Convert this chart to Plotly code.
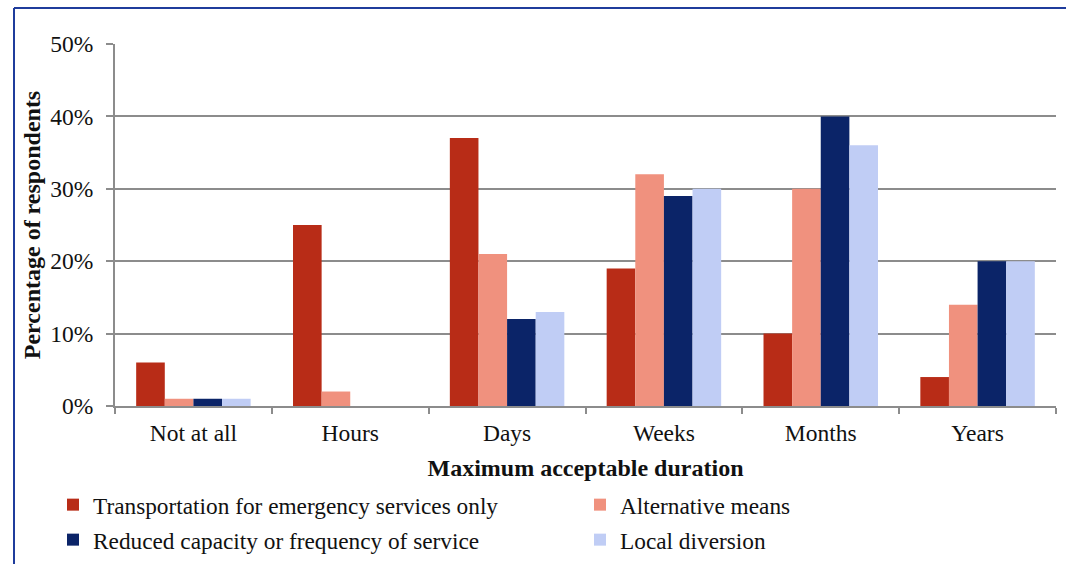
import plotly.graph_objects as go

categories = ['Not at all', 'Hours', 'Days', 'Weeks', 'Months', 'Years']
emergency_only = [6, 25, 37, 19, 10, 4]
alternative_means = [1, 2, 21, 32, 30, 14]
reduced_capacity = [1, 0, 12, 29, 40, 20]
local_diversion = [1, 0, 13, 30, 36, 20]

series = [
    ('Transportation for emergency services only', emergency_only, '#B82C17'),
    ('Alternative means', alternative_means, '#F0917E'),
    ('Reduced capacity or frequency of service', reduced_capacity, '#0B2468'),
    ('Local diversion', local_diversion, '#C0CDF5'),
]
legend_names = ['legend', 'legend2', 'legend3', 'legend4']

font = 'Liberation Serif, Times New Roman, serif'

fig = go.Figure()
for (name, vals, color), leg in zip(series, legend_names):
    fig.add_trace(go.Bar(
        x=categories, y=[v / 100 for v in vals], name=name,
        marker=dict(color=color, line=dict(width=0)), legend=leg,
    ))

# plot area in pixels: x 115..1056, y 44..406
W, H = 1066, 564
ml, mr, mt, mb = 115, 10, 44, 158
pw, ph = W - ml - mr, H - mt - mb

def px_x(x):
    return (x - ml) / pw

def px_y(y):
    return 1 - (y - mt) / ph

leg_common = dict(
    orientation='h', xref='paper', yref='paper', xanchor='left', yanchor='middle',
    font=dict(family=font, size=23.3, color='#111'), bgcolor='rgba(0,0,0,0)',
    itemwidth=30,
)
# legend entry positions (left edge, row centre) in pixels
leg_pos = [(53, 505), (580, 505), (53, 540), (580, 540)]
legends = {n: dict(x=px_x(x), y=px_y(y), **leg_common) for n, (x, y) in zip(legend_names, leg_pos)}

fig.update_layout(
    width=W, height=H,
    margin=dict(l=ml, r=mr, t=mt, b=mb, autoexpand=False),
    plot_bgcolor='white', paper_bgcolor='white',
    barmode='group', bargap=0.27, bargroupgap=0,
    font=dict(family=font, size=23.5, color='#111'),
    xaxis=dict(
        showline=True, linecolor='#8C8C8C', linewidth=2,
        ticks='outside', tickson='boundaries', ticklen=6, tickcolor='#8C8C8C', tickwidth=2,
        showgrid=False, ticklabelstandoff=5,
        title=dict(text='<b>Maximum acceptable duration</b>', font=dict(size=24), standoff=14),
    ),
    yaxis=dict(
        range=[0, 0.5], dtick=0.1, tickformat='.0%',
        showline=True, linecolor='#8C8C8C', linewidth=2,
        ticks='outside', ticklen=7, tickcolor='#8C8C8C', tickwidth=2,
        showgrid=True, gridcolor='#8C8C8C', gridwidth=2,
        zeroline=False, ticklabelstandoff=8,
        title=dict(text='<b>Percentage of respondents</b>', font=dict(size=24), standoff=3),
    ),
    showlegend=True,
    shapes=[
        dict(type='line', xref='paper', yref='paper', x0=px_x(14), x1=px_x(1070),
             y0=px_y(8), y1=px_y(8), line=dict(color='#1F3C9C', width=2)),
        dict(type='line', xref='paper', yref='paper', x0=px_x(14), x1=px_x(14),
             y0=px_y(8), y1=px_y(570), line=dict(color='#1F3C9C', width=2)),
    ],
    **legends,
)

fig.write_html('out.html', config={'displayModeBar': False},
               post_script="document.body.style.margin='0';")
